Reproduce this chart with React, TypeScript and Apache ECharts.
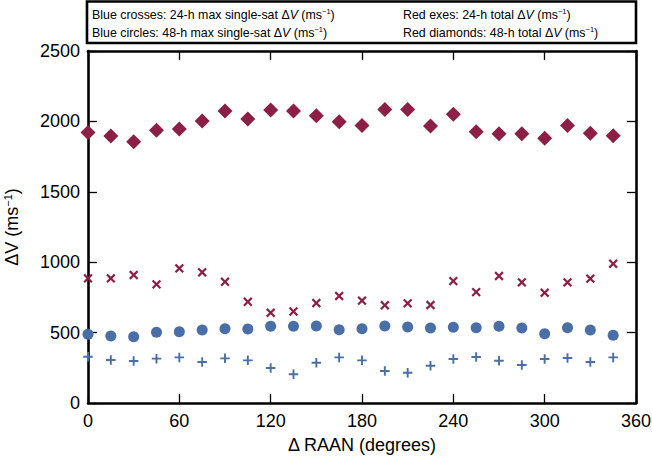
import { useEffect, useRef } from 'react';
import * as echarts from 'echarts';

const raan = [0, 15, 30, 45, 60, 75, 90, 105, 120, 135, 150, 165, 180, 195, 210, 225, 240, 255, 270, 285, 300, 315, 330, 345];

// 48-h total dV (red diamonds)
const redDiamonds = [1922, 1896, 1856, 1937, 1946, 2003, 2074, 2017, 2081, 2074, 2040, 1998, 1970, 2085, 2085, 1967, 2050, 1927, 1913, 1913, 1880, 1970, 1915, 1898];
// 24-h total dV (red exes)
const redExes = [885, 885, 909, 843, 956, 928, 861, 719, 641, 650, 710, 760, 727, 694, 708, 696, 866, 788, 902, 857, 783, 857, 883, 989];
// 48-h max single-sat dV (blue circles)
const blueCircles = [488, 476, 471, 502, 506, 518, 528, 525, 545, 545, 547, 521, 528, 547, 540, 533, 538, 535, 545, 533, 492, 535, 518, 481];
// 24-h max single-sat dV (blue crosses)
const blueCrosses = [329, 305, 298, 315, 324, 291, 317, 303, 249, 204, 286, 324, 303, 227, 215, 265, 312, 327, 300, 270, 312, 320, 291, 324];

const RED = '#8c1f45';
const BLUE = '#4a6ea6';
const FONT = 'Liberation Sans, Arial, sans-serif';

const PLUS = 'path://M4,0H6V4H10V6H6V10H4V6H0V4H4Z';

const pairs = (ys: number[]) => raan.map((x, i) => [x, ys[i]]);

const legendRich = {
  i: { fontStyle: 'italic', fontSize: 12.4, fontFamily: FONT, fill: '#000' },
  sup: { fontSize: 7.5, fontFamily: FONT, verticalAlign: 'top', padding: [0, 0, 7, 0] },
};

const axisLine = () => ({ show: true, onZero: false, lineStyle: { color: '#000', width: 2.6 } });
const axisTick = () => ({ show: true, inside: true, length: 9, lineStyle: { color: '#000', width: 1.3 } });

export default function App() {
  const ref = useRef<HTMLDivElement | null>(null);

  useEffect(() => {
    if (!ref.current) return;
    const chart = echarts.init(ref.current, null, { renderer: 'svg' });

    const label = { color: '#000', fontSize: 18, fontFamily: FONT, formatter: (v: number) => String(v) };

    const legendText = (x: number, y: number, text: string) => ({
      type: 'text',
      x,
      y,
      style: {
        text,
        fontSize: 12.4,
        fontFamily: FONT,
        fill: '#000',
        verticalAlign: 'middle',
        rich: legendRich,
      },
    });

    chart.setOption({
      animation: false,
      grid: { left: 88, right: 16, top: 51, bottom: 58, outerBoundsMode: 'none' },
      xAxis: [
        {
          type: 'value',
          min: 0,
          max: 360,
          interval: 60,
          position: 'bottom',
          axisLine: axisLine(),
          axisTick: axisTick(),
          splitLine: { show: false },
          axisLabel: { ...label, margin: 9 },
          name: 'Δ RAAN (degrees)',
          nameLocation: 'middle',
          nameGap: 33,
          nameTextStyle: { color: '#000', fontSize: 18, fontFamily: FONT },
        },
        {
          type: 'value',
          min: 0,
          max: 360,
          interval: 60,
          position: 'top',
          axisLine: axisLine(),
          axisTick: axisTick(),
          splitLine: { show: false },
          axisLabel: { show: false },
        },
      ],
      yAxis: [
        {
          type: 'value',
          min: 0,
          max: 2500,
          interval: 500,
          position: 'left',
          axisLine: axisLine(),
          axisTick: axisTick(),
          splitLine: { show: false },
          axisLabel: { ...label, margin: 8 },
          name: 'ΔV (ms{sup|−1})',
          nameLocation: 'middle',
          nameRotate: 90,
          nameGap: 66,
          nameTextStyle: {
            color: '#000',
            fontSize: 18,
            fontFamily: FONT,
            rich: { sup: { fontSize: 11, fontFamily: FONT, color: '#000', verticalAlign: 'top', padding: [0, 0, 9, 0] } },
          },
        },
        {
          type: 'value',
          min: 0,
          max: 2500,
          interval: 500,
          position: 'right',
          axisLine: axisLine(),
          axisTick: axisTick(),
          splitLine: { show: false },
          axisLabel: { show: false },
        },
      ],
      graphic: [
        {
          type: 'rect',
          shape: { x: 87, y: 1.5, width: 549, height: 41.5 },
          style: { fill: '#fff', stroke: '#000', lineWidth: 2.6 },
        },
        legendText(92, 15, 'Blue crosses: 24-h max single-sat Δ{i|V} (ms{sup|−1})'),
        legendText(92, 33, 'Blue circles: 48-h max single-sat Δ{i|V} (ms{sup|−1})'),
        legendText(403, 15, 'Red exes: 24-h total Δ{i|V} (ms{sup|−1})'),
        legendText(403, 33, 'Red diamonds: 48-h total Δ{i|V} (ms{sup|−1})'),
      ],
      series: [
        {
          type: 'scatter',
          name: 'Red diamonds',
          data: pairs(redDiamonds),
          symbol: 'diamond',
          symbolSize: [15, 15],
          itemStyle: { color: RED, opacity: 1 },
        },
        {
          type: 'scatter',
          name: 'Red exes',
          data: pairs(redExes),
          symbol: PLUS,
          symbolSize: 11,
          symbolRotate: 45,
          itemStyle: { color: RED, opacity: 1 },
        },
        {
          type: 'scatter',
          name: 'Blue circles',
          data: pairs(blueCircles),
          symbol: 'circle',
          symbolSize: 11,
          itemStyle: { color: BLUE, opacity: 1 },
        },
        {
          type: 'scatter',
          name: 'Blue crosses',
          data: pairs(blueCrosses),
          symbol: PLUS,
          symbolSize: 9.5,
          itemStyle: { color: BLUE, opacity: 1 },
        },
      ],
    });

    return () => {
      chart.dispose();
    };
  }, []);

  return (
    <div
      ref={ref}
      style={{ position: 'absolute', left: 0, top: 0, width: 652, height: 461, background: '#fff' }}
    />
  );
}
